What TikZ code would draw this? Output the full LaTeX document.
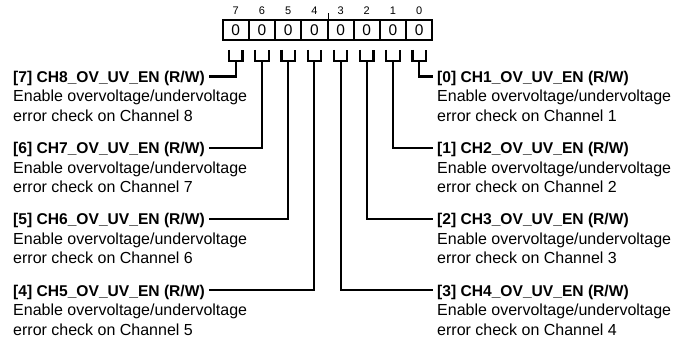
\documentclass[tikz,border=0pt]{standalone}
\usepackage{fontspec}
\setmainfont{Liberation Sans}
\begin{document}
\begin{tikzpicture}[x=1pt,y=-1pt,
  cell/.style={draw, line width=2pt, minimum width=26.2pt, minimum height=20pt, inner sep=0pt, font=\fontsize{15.5}{17}\selectfont},
  bitnum/.style={inner sep=0pt, font=\fontsize{11}{13}\selectfont},
  title/.style={inner xsep=4pt, inner ysep=0pt, text height=11.2pt, text depth=0pt, anchor=west, font=\fontsize{15.6}{19.5}\selectfont\bfseries},
  desc/.style={inner sep=0pt, anchor=north west, align=left, font=\fontsize{16}{19.5}\selectfont},
  lead/.style={line width=2.1pt, line join=miter},
]
\useasboundingbox (0,0) rectangle (679,344);
% register cells, bit numbers and brackets
\foreach \b [count=\i from 0] in {7,...,0} {
  \pgfmathsetmacro{\xx}{235.8+26.2*\i}
  \node[cell] (c\b) at (\xx, 30) {0};
  \node[bitnum] (n\b) at (\xx, 11) {\b};
  \coordinate (b\b) at (\xx, 61);
  \draw[lead] (\xx-6.7, 50) |- (\xx+6.7, 61) -- (\xx+6.7, 50);
}
\draw[line width=1pt] (c4.north east) -- ++(0,-6);
% left labels
\foreach \b/\ch/\j in {7/8/0, 6/7/1, 5/6/2, 4/5/3} {
  \pgfmathsetmacro{\yy}{76.5+71.3*\j}
  \node[title] (t\b) at (9, \yy) {[\b] CH\ch\_OV\_UV\_EN (R/W)};
  \node[desc] (d\b) at (13, \yy+13.6) {Enable overvoltage/undervoltage\\error check on Channel \ch};
  \draw[lead] (b\b) |- (t\b.east);
}
% right labels
\foreach \b/\ch/\j in {0/1/0, 1/2/1, 2/3/2, 3/4/3} {
  \pgfmathsetmacro{\yy}{76.5+71.3*\j}
  \node[title] (t\b) at (433, \yy) {[\b] CH\ch\_OV\_UV\_EN (R/W)};
  \node[desc] (d\b) at (437, \yy+13.6) {Enable overvoltage/undervoltage\\error check on Channel \ch};
  \draw[lead] (b\b) |- (t\b.west);
}
\end{tikzpicture}
\end{document}
